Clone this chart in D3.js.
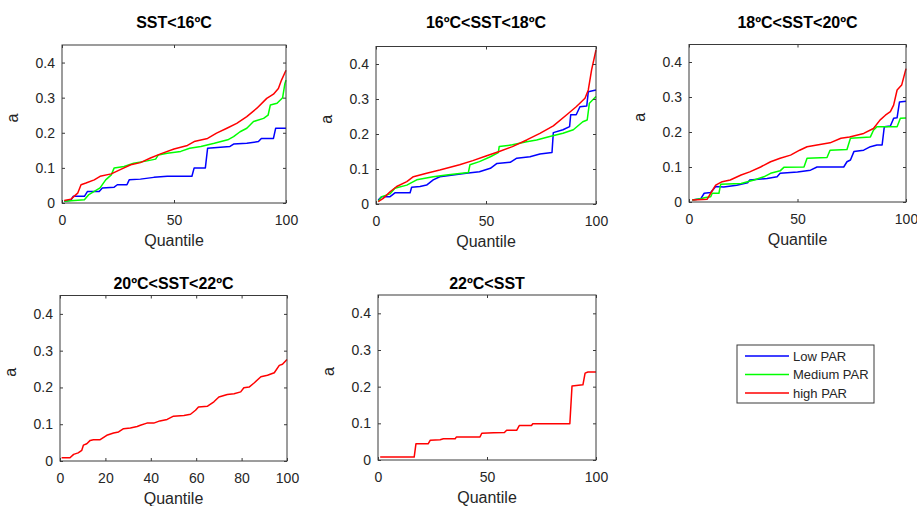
<!DOCTYPE html>
<html>
<head>
<meta charset="utf-8">
<script src="https://cdn.jsdelivr.net/npm/d3@7"></script>
<style>
  body { margin: 0; background: #fff; }
  svg { display: block; font-family: "Liberation Sans", Arial, sans-serif; }
</style>
</head>
<body>
<div id="main-container"></div>
<script>
// quantile curves of "a" as [quantile, a] pairs
const p1Low = [[1,0.005],[4,0.008],[5,0.019],[10,0.019],[11.4,0.033],[16.6,0.033],[18,0.043],[23.3,0.045],[24.7,0.052],[29,0.052],[30,0.066],[35,0.068],[41,0.073],[47,0.076],[58,0.076],[59,0.1],[64,0.1],[65,0.156],[75,0.161],[76.6,0.168],[82.5,0.17],[87.7,0.175],[89,0.184],[94.4,0.184],[95.4,0.213],[100,0.213]];
const p1Med = [[1,0.005],[10,0.009],[12,0.024],[14.4,0.033],[17,0.043],[19.5,0.066],[22,0.08],[23.3,0.1],[27.7,0.104],[32,0.113],[38,0.12],[41.8,0.125],[43,0.137],[47,0.142],[53,0.147],[57,0.156],[62,0.161],[68,0.17],[74,0.18],[76.6,0.189],[79.5,0.203],[82.5,0.213],[85.5,0.232],[90,0.241],[92,0.25],[93,0.279],[96,0.284],[98.5,0.3],[99.5,0.34],[100,0.35]];
const p1High = [[1,0.007],[4,0.011],[7,0.028],[8.5,0.052],[10.7,0.057],[14.4,0.066],[17,0.076],[22,0.083],[26,0.095],[30.7,0.109],[35,0.115],[39.5,0.128],[44,0.14],[50,0.154],[56,0.164],[59,0.175],[65,0.184],[69,0.199],[73.6,0.213],[78,0.227],[82.5,0.246],[87,0.27],[91.4,0.298],[94.4,0.31],[96.6,0.326],[98,0.35],[100,0.378]];

const p2Low = [[1,0.011],[2.6,0.021],[6.4,0.021],[8.6,0.032],[15.5,0.032],[16.2,0.048],[20,0.05],[23,0.054],[26,0.069],[29,0.078],[35,0.083],[41,0.088],[47,0.092],[52,0.102],[55,0.116],[61,0.119],[64,0.131],[70,0.135],[74.5,0.143],[80,0.147],[80.6,0.204],[85,0.212],[88,0.221],[88.5,0.255],[91,0.255],[92.7,0.278],[95.8,0.28],[96.5,0.321],[100,0.326]];
const p2Med = [[1,0.007],[2.6,0.021],[6.4,0.029],[8.6,0.045],[14,0.054],[18.5,0.069],[26,0.078],[32,0.083],[42,0.09],[42.7,0.112],[47,0.121],[52,0.135],[55.6,0.147],[56,0.164],[62,0.169],[68.5,0.178],[73,0.183],[79,0.193],[85,0.202],[89.7,0.212],[94,0.235],[96,0.24],[97,0.288],[100,0.307]];
const p2High = [[1,0.007],[3.3,0.016],[6.4,0.035],[9.4,0.05],[14,0.064],[17,0.078],[23,0.088],[29,0.097],[32,0.102],[38,0.112],[44,0.124],[50,0.137],[56,0.15],[62,0.164],[68.5,0.183],[74.5,0.202],[80.6,0.223],[86.7,0.255],[91,0.278],[95,0.302],[96.5,0.326],[98,0.383],[100,0.44]];

const p3Low = [[1.5,0.006],[5.4,0.009],[7,0.025],[10,0.027],[12.3,0.044],[16,0.043],[22,0.048],[27,0.055],[28,0.063],[36,0.067],[40.6,0.072],[42,0.082],[50,0.086],[56,0.091],[59,0.1],[71.3,0.1],[72.8,0.115],[74.4,0.12],[76,0.144],[80.5,0.148],[83.6,0.158],[86.6,0.163],[89,0.163],[90,0.215],[92.8,0.217],[94.3,0.239],[95.9,0.241],[97,0.286],[100,0.288]];
const p3Med = [[1.5,0.006],[5.4,0.009],[7,0.012],[10,0.015],[10.7,0.025],[13.8,0.025],[14.6,0.051],[24,0.053],[30,0.063],[34.5,0.072],[37.6,0.082],[42,0.089],[43.7,0.099],[53,0.1],[54.4,0.125],[63.6,0.127],[65,0.148],[72.8,0.15],[74.4,0.182],[83.6,0.186],[85,0.205],[86.6,0.215],[95.9,0.215],[97.4,0.239],[100,0.24]];
const p3High = [[1.5,0.006],[8.4,0.008],[10,0.025],[12.3,0.048],[15.3,0.058],[19,0.063],[24,0.077],[28,0.086],[33,0.1],[37.6,0.115],[42,0.125],[46.8,0.134],[51,0.148],[54.4,0.158],[59,0.163],[65,0.169],[70,0.182],[74,0.186],[80.5,0.196],[85,0.21],[88,0.234],[90.5,0.248],[92.8,0.258],[94.3,0.277],[95.9,0.32],[98,0.334],[100,0.381]];

const p4High = [[0.7,0.009],[4.4,0.009],[6,0.018],[8,0.022],[9.6,0.029],[10.3,0.043],[11.8,0.047],[13.3,0.056],[14.7,0.058],[17.7,0.058],[20.6,0.07],[23.6,0.076],[25.8,0.079],[28,0.088],[31,0.09],[34,0.094],[35.4,0.097],[38.3,0.103],[41.3,0.103],[44,0.109],[47.2,0.113],[50,0.122],[54.6,0.124],[57.5,0.127],[59.7,0.138],[61,0.147],[65,0.149],[67.8,0.161],[70,0.174],[73.7,0.181],[76.7,0.183],[79.6,0.188],[81,0.199],[83.3,0.201],[85.5,0.212],[88.5,0.229],[91.4,0.233],[94.4,0.24],[96.6,0.26],[98,0.263],[100,0.276]];

const p5High = [[1,0.008],[16.6,0.008],[17.4,0.044],[23,0.044],[24,0.054],[28.5,0.055],[30,0.058],[35.4,0.058],[36,0.063],[46.8,0.063],[47.6,0.073],[53,0.074],[58,0.075],[59,0.081],[63.6,0.081],[64.8,0.094],[70.4,0.094],[71,0.099],[88,0.099],[89,0.202],[94,0.205],[95,0.237],[96.3,0.24],[100,0.24]];

const titles = ["SST<16ºC", "16ºC<SST<18ºC", "18ºC<SST<20ºC", "20ºC<SST<22ºC", "22ºC<SST"];
const seriesNames = ["Low PAR", "Medium PAR", "high PAR"];
const yTicks = [0, 0.1, 0.2, 0.3, 0.4];
const xTicksWide = [0, 50, 100];
const xTicksFine = [0, 20, 40, 60, 80, 100];

const colors = ["#0000ff", "#00ff00", "#ff0000"];
const textColor = "#262626";

// one entry per subplot: box in pixels, which curves it holds
const panels = [
  {title: titles[0], x0: 62, x1: 286, y0: 45, y1: 203, lines: [p1Low, p1Med, p1High], xt: xTicksWide, titleGap: 23},
  {title: titles[1], x0: 376, x1: 596, y0: 46.5, y1: 204, lines: [p2Low, p2Med, p2High], xt: xTicksWide, titleGap: 24},
  {title: titles[2], x0: 689, x1: 906, y0: 44.5, y1: 202, lines: [p3Low, p3Med, p3High], xt: xTicksWide, titleGap: 22},
  {title: titles[3], x0: 60, x1: 287, y0: 295.5, y1: 461, lines: [null, null, p4High], xt: xTicksFine, titleGap: 12},
  {title: titles[4], x0: 378, x1: 596, y0: 295, y1: 460, lines: [null, null, p5High], xt: xTicksWide, titleGap: 12}
];

const width = 917, height = 506;
const svg = d3.select("#main-container").append("svg")
              .attr("width", width)
              .attr("height", height);

for (const p of panels) {
  const x = d3.scaleLinear().domain([0, 100]).range([p.x0, p.x1]);
  const y = d3.scaleLinear().domain([0, 0.45]).range([p.y1, p.y0]);
  const g = svg.append("g");

  // curves first, box on top
  const line = d3.line().x(d => x(d[0])).y(d => y(d[1]));
  p.lines.forEach((data, i) => {
    if (!data) return;
    g.append("path")
     .datum(data)
     .attr("d", line)
     .attr("fill", "none")
     .attr("stroke", colors[i])
     .attr("stroke-width", 1.5)
     .attr("stroke-linejoin", "round");
  });

  // MATLAB-style box with inward ticks on all four sides
  g.append("rect")
   .attr("x", p.x0).attr("y", p.y0)
   .attr("width", p.x1 - p.x0).attr("height", p.y1 - p.y0)
   .attr("fill", "none").attr("stroke", "#3a3a3a").attr("stroke-width", 1);

  const tickLen = 3;
  g.append("g").attr("transform", `translate(0,${p.y1})`)
   .call(d3.axisBottom(x).tickValues(p.xt).tickSize(-tickLen).tickPadding(12).tickFormat(d3.format("d")));
  g.append("g").attr("transform", `translate(0,${p.y0})`)
   .call(d3.axisTop(x).tickValues(p.xt).tickSize(-tickLen).tickFormat(""));
  g.append("g").attr("transform", `translate(${p.x0},0)`)
   .call(d3.axisLeft(y).tickValues(yTicks).tickSize(-tickLen).tickPadding(7).tickFormat(d => d === 0 ? "0" : d3.format(".1f")(d)));
  g.append("g").attr("transform", `translate(${p.x1},0)`)
   .call(d3.axisRight(y).tickValues(yTicks).tickSize(-tickLen).tickFormat(""));

  g.selectAll(".domain").remove();
  g.selectAll(".tick line").attr("stroke", "#3a3a3a");
  g.selectAll(".tick text")
   .attr("fill", textColor)
   .style("font-size", "14px")
   .style("font-family", "'Liberation Sans', Arial, sans-serif");

  const cx = (p.x0 + p.x1) / 2;
  g.append("text")
   .attr("x", cx).attr("y", p.y0 - p.titleGap)
   .attr("dy", "0.35em")
   .attr("text-anchor", "middle")
   .attr("fill", "#000")
   .style("font-size", "16px")
   .style("font-weight", "bold")
   .text(p.title);

  g.append("text")
   .attr("x", cx).attr("y", p.y1 + 43)
   .attr("text-anchor", "middle")
   .attr("fill", textColor)
   .style("font-size", "16px")
   .text("Quantile");

  g.append("text")
   .attr("transform", `translate(${p.x0 - 44},${(p.y0 + p.y1) / 2 - 6}) rotate(-90)`)
   .attr("text-anchor", "middle")
   .attr("fill", textColor)
   .style("font-size", "16px")
   .text("a");
}

// legend, bottom right
const legend = svg.append("g");
legend.append("rect")
      .attr("x", 737).attr("y", 345)
      .attr("width", 137).attr("height", 58)
      .attr("fill", "#fff").attr("stroke", "#3a3a3a").attr("stroke-width", 1);
seriesNames.forEach((name, i) => {
  const ly = 356 + i * 18.5;
  legend.append("line")
        .attr("x1", 745).attr("x2", 789)
        .attr("y1", ly).attr("y2", ly)
        .attr("stroke", colors[i]).attr("stroke-width", 1.5);
  legend.append("text")
        .attr("x", 793).attr("y", ly)
        .attr("dy", "0.35em")
        .attr("fill", textColor)
        .style("font-size", "13px")
        .text(name);
});
</script>
</body>
</html>
